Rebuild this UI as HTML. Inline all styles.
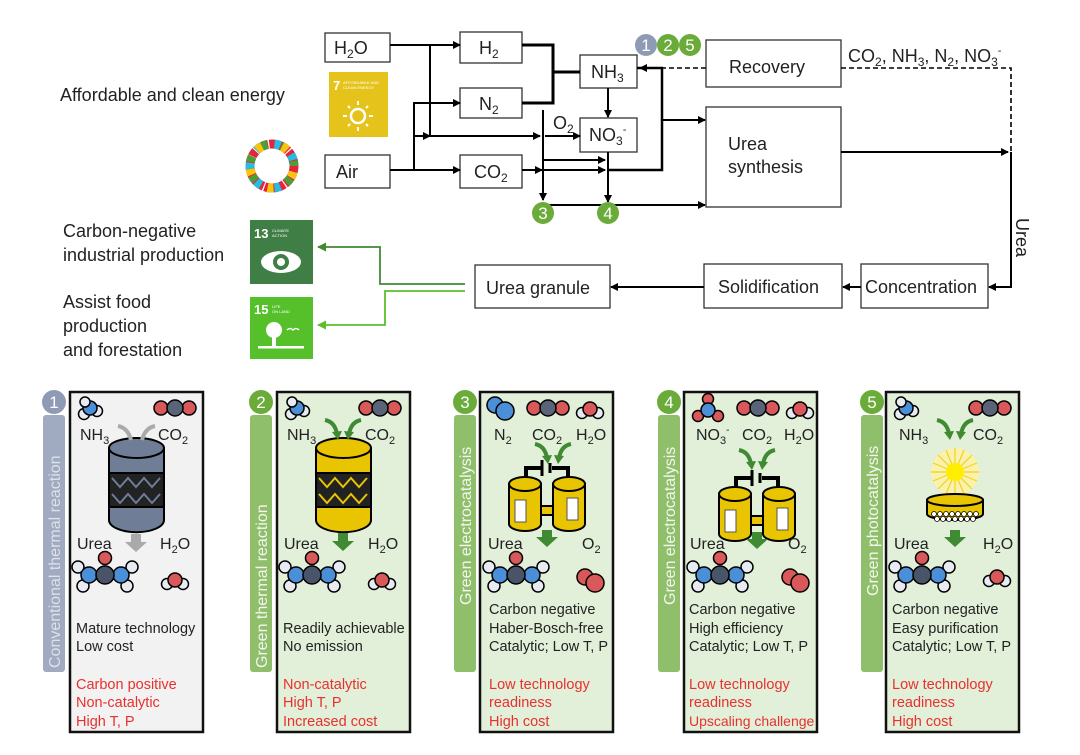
<!DOCTYPE html>
<html><head><meta charset="utf-8"><style>
html,body{margin:0;padding:0;background:#fff}
svg{display:block}
text{font-family:"Liberation Sans",sans-serif}
</style></head><body>
<svg width="1080" height="755" viewBox="0 0 1080 755" xmlns="http://www.w3.org/2000/svg">
<defs>
<marker id="a" markerWidth="8" markerHeight="8" refX="7" refY="4" orient="auto" markerUnits="userSpaceOnUse"><path d="M0,0 L8,4 L0,8 z" fill="#000"/></marker>
<marker id="ag" markerWidth="9" markerHeight="9" refX="8" refY="4.5" orient="auto" markerUnits="userSpaceOnUse"><path d="M0,0 L9,4.5 L0,9 z" fill="#3f8a33"/></marker>
<marker id="al" markerWidth="9" markerHeight="9" refX="8" refY="4.5" orient="auto" markerUnits="userSpaceOnUse"><path d="M0,0 L9,4.5 L0,9 z" fill="#5cbf2a"/></marker>
<g id="co2"><circle cx="-14" cy="0" r="7" fill="#d9595b" stroke="#000" stroke-width="1.5"/><circle cx="14" cy="0" r="7" fill="#d9595b" stroke="#000" stroke-width="1.5"/><circle cx="0" cy="0" r="8" fill="#5a6478" stroke="#000" stroke-width="1.5"/></g>
<g id="nh3"><circle cx="-6" cy="6" r="5.5" fill="#e8ecf2" stroke="#000" stroke-width="1.5"/><circle cx="7" cy="3" r="5.5" fill="#e8ecf2" stroke="#000" stroke-width="1.5"/><circle cx="0" cy="0" r="7" fill="#4a8fd8" stroke="#000" stroke-width="1.5"/><circle cx="-5" cy="-6" r="5" fill="#e8ecf2" stroke="#000" stroke-width="1.5"/></g>
<g id="h2o"><circle cx="-8" cy="3" r="5.5" fill="#e8ecf2" stroke="#000" stroke-width="1.5"/><circle cx="8" cy="3" r="5.5" fill="#e8ecf2" stroke="#000" stroke-width="1.5"/><circle cx="0" cy="-1" r="7" fill="#d9595b" stroke="#000" stroke-width="1.5"/></g>
<g id="o2"><circle cx="-5" cy="-3" r="8" fill="#d9595b" stroke="#000" stroke-width="1.5"/><circle cx="5" cy="3" r="9" fill="#d9595b" stroke="#000" stroke-width="1.5"/></g>
<g id="n2"><circle cx="-5" cy="-3" r="8" fill="#4a8fd8" stroke="#000" stroke-width="1.5"/><circle cx="5" cy="3" r="9" fill="#4a8fd8" stroke="#000" stroke-width="1.5"/></g>
<g id="urea" stroke="#000" stroke-width="1.5">
<circle cx="-27" cy="-8" r="6" fill="#e8ecf2"/><circle cx="27" cy="-8" r="6" fill="#e8ecf2"/>
<circle cx="-22" cy="11" r="6" fill="#e8ecf2"/><circle cx="22" cy="11" r="6" fill="#e8ecf2"/>
<circle cx="-16" cy="0" r="8" fill="#4a8fd8"/><circle cx="16" cy="0" r="8" fill="#4a8fd8"/>
<circle cx="0" cy="-17" r="6.5" fill="#d9595b"/>
<circle cx="0" cy="0" r="9" fill="#4a5468"/></g>
<g id="nite" stroke="#000" stroke-width="1.5"><circle cx="0" cy="-11" r="5.5" fill="#d9595b"/><circle cx="-10" cy="6" r="5.5" fill="#d9595b"/><circle cx="10" cy="6" r="5.5" fill="#d9595b"/><circle cx="0" cy="0" r="7" fill="#4a8fd8"/></g>
<g id="garr"><path d="M-18,-12 q10,2 12,14" fill="none" stroke="#3f8a33" stroke-width="4"/><path d="M-11,0 l6,8 l4,-9z" fill="#3f8a33"/><path d="M18,-12 q-10,2 -12,14" fill="none" stroke="#3f8a33" stroke-width="4"/><path d="M11,0 l-6,8 l-4,-9z" fill="#3f8a33"/></g>
<g id="cell">
<path d="M-21,-30 v-14 h16 M5,-44 h16 v14" fill="none" stroke="#000" stroke-width="4"/>
<line x1="-5" y1="-52" x2="-5" y2="-36" stroke="#000" stroke-width="3"/><line x1="3" y1="-49" x2="3" y2="-39" stroke="#000" stroke-width="3"/>
<rect x="-10" y="-6" width="20" height="9" fill="#e8c500" stroke="#000" stroke-width="2"/>
<path d="M-38,-28 v40 a16,7 0 0 0 32,0 v-40z" fill="#e8c500" stroke="#000" stroke-width="2"/><ellipse cx="-22" cy="-28" rx="16" ry="7" fill="#e8c500" stroke="#000" stroke-width="2"/>
<path d="M6,-28 v40 a16,7 0 0 0 32,0 v-40z" fill="#e8c500" stroke="#000" stroke-width="2"/><ellipse cx="22" cy="-28" rx="16" ry="7" fill="#e8c500" stroke="#000" stroke-width="2"/>
<rect x="-32" y="-12" width="11" height="22" fill="#fff" stroke="#555"/><rect x="20" y="-14" width="11" height="22" fill="#fff" stroke="#555"/>
</g>
</defs>

<g font-size="18" fill="#222">
<text x="60" y="101">Affordable and clean energy</text>
<text x="63" y="237">Carbon-negative</text>
<text x="63" y="261">industrial production</text>
<text x="63" y="308">Assist food</text>
<text x="63" y="332">production</text>
<text x="63" y="356">and forestation</text>
</g>
<rect x="329" y="72" width="59" height="65" fill="#e5c31a"/>
<text x="333" y="90" font-size="13" font-weight="bold" fill="#fff">7</text>
<text x="343" y="84" font-size="4" fill="#fff">AFFORDABLE AND</text>
<text x="343" y="89" font-size="4" fill="#fff">CLEAN ENERGY</text>
<circle cx="358" cy="116" r="7" fill="none" stroke="#fff" stroke-width="2.5"/>
<g stroke="#fff" stroke-width="2"><line x1="358" y1="101" x2="358" y2="105"/><line x1="358" y1="127" x2="358" y2="131"/><line x1="343" y1="116" x2="347" y2="116"/><line x1="369" y1="116" x2="373" y2="116"/><line x1="348" y1="106" x2="350" y2="108"/><line x1="366" y1="124" x2="368" y2="126"/><line x1="366" y1="108" x2="368" y2="106"/><line x1="348" y1="126" x2="350" y2="124"/></g>
<g transform="translate(272,166)">
<circle r="22" fill="none" stroke="#e5243b" stroke-width="9" stroke-dasharray="6 1.2"/>
<circle r="22" fill="none" stroke="#4c9f38" stroke-width="9" stroke-dasharray="6 14" stroke-dashoffset="7"/>
<circle r="22" fill="none" stroke="#26bde2" stroke-width="9" stroke-dasharray="6 14" stroke-dashoffset="14"/>
<circle r="22" fill="none" stroke="#fcc30b" stroke-width="9" stroke-dasharray="6 21" stroke-dashoffset="21"/>
</g>
<rect x="250" y="220" width="63" height="64" fill="#3f7e44"/>
<text x="254" y="238" font-size="13" font-weight="bold" fill="#fff">13</text>
<text x="272" y="232" font-size="4" fill="#fff">CLIMATE</text><text x="272" y="237" font-size="4" fill="#fff">ACTION</text>
<ellipse cx="281" cy="262" rx="20" ry="11" fill="#fff"/><circle cx="281" cy="262" r="8" fill="#3f7e44"/><circle cx="281" cy="262" r="4" fill="#fff"/>
<rect x="250" y="297" width="63" height="62" fill="#56c02b"/>
<text x="254" y="314" font-size="13" font-weight="bold" fill="#fff">15</text>
<text x="272" y="308" font-size="4" fill="#fff">LIFE</text><text x="272" y="313" font-size="4" fill="#fff">ON LAND</text>
<circle cx="274" cy="330" r="8" fill="#fff"/><rect x="272" y="336" width="4" height="10" fill="#fff"/><rect x="258" y="346" width="46" height="2.5" fill="#fff"/>
<path d="M287,330 q3,-3 6,0 q3,-3 6,0" fill="none" stroke="#fff" stroke-width="1.5"/>

<g fill="#fff" stroke="#333" stroke-width="1.3">
<rect x="325" y="33" width="65" height="29"/>
<rect x="325" y="155" width="65" height="33"/>
<rect x="460" y="32" width="62" height="31"/>
<rect x="460" y="88" width="62" height="30"/>
<rect x="460" y="155" width="62" height="33"/>
<rect x="580" y="55" width="57" height="33"/>
<rect x="580" y="118" width="57" height="34"/>
<rect x="706" y="40" width="135" height="47"/>
<rect x="706" y="107" width="135" height="100"/>
<rect x="475" y="265" width="135" height="43"/>
<rect x="704" y="264" width="138" height="44"/>
<rect x="861" y="264" width="127" height="44"/>
</g>
<g font-size="18" fill="#222">
<text x="334" y="54">H<tspan font-size="12" dy="4">2</tspan><tspan dy="-4">O</tspan></text>
<text x="336" y="178">Air</text>
<text x="479" y="54">H<tspan font-size="12" dy="4">2</tspan></text>
<text x="479" y="110">N<tspan font-size="12" dy="4">2</tspan></text>
<text x="474" y="178">CO<tspan font-size="12" dy="4">2</tspan></text>
<text x="591" y="78">NH<tspan font-size="12" dy="4">3</tspan></text>
<text x="589" y="141">NO<tspan font-size="12" dy="4">3</tspan><tspan font-size="11" dy="-12">-</tspan></text>
<text x="553" y="129">O<tspan font-size="12" dy="4">2</tspan></text>
<text x="729" y="73">Recovery</text>
<text x="728" y="150">Urea</text>
<text x="728" y="173">synthesis</text>
<text x="848" y="62">CO<tspan font-size="12" dy="4">2</tspan><tspan dy="-4">, NH</tspan><tspan font-size="12" dy="4">3</tspan><tspan dy="-4">, N</tspan><tspan font-size="12" dy="4">2</tspan><tspan dy="-4">, NO</tspan><tspan font-size="12" dy="4">3</tspan><tspan font-size="11" dy="-12">-</tspan></text>
<text x="486" y="294">Urea granule</text>
<text x="718" y="293">Solidification</text>
<text x="865" y="293">Concentration</text>
<text transform="translate(1016,218) rotate(90)">Urea</text>
</g>
<g stroke="#000" stroke-width="2" fill="none">
<line x1="390" y1="45" x2="460" y2="45" marker-end="url(#a)"/>
<polyline points="430,45 430,136 540,136" marker-end="url(#a)"/>
<line x1="390" y1="170" x2="460" y2="170" marker-end="url(#a)"/>
<polyline points="414,170 414,103 460,103" marker-end="url(#a)"/>
<line x1="414" y1="136" x2="430" y2="136" marker-end="url(#a)"/>
<line x1="545" y1="136" x2="580" y2="136" marker-end="url(#a)"/>
<line x1="522" y1="170" x2="542" y2="170" marker-end="url(#a)"/>
<polyline points="522,45 553,45 553,103 522,103" stroke-width="3"/>
<line x1="553" y1="72" x2="580" y2="72" stroke-width="3"/>
<line x1="543" y1="110" x2="543" y2="200" marker-end="url(#a)"/>
<line x1="543" y1="160" x2="605" y2="160" marker-end="url(#a)"/>
<line x1="543" y1="170" x2="605" y2="170" marker-end="url(#a)"/>
<line x1="543" y1="205" x2="705" y2="205" marker-end="url(#a)"/>
<line x1="608" y1="88" x2="608" y2="117" marker-end="url(#a)"/>
<line x1="608" y1="152" x2="608" y2="202" marker-end="url(#a)"/>
<polyline points="637,68 662,68 662,170 608,170" stroke-width="2.5"/>
<line x1="662" y1="120" x2="705" y2="120" marker-end="url(#a)"/>
<line x1="841" y1="152" x2="1008" y2="152" marker-end="url(#a)"/>
<polyline points="1011,152 1011,287 989,287" marker-end="url(#a)"/>
<line x1="861" y1="287" x2="843" y2="287" marker-end="url(#a)"/>
<line x1="704" y1="287" x2="611" y2="287" marker-end="url(#a)"/>
<polyline points="841,68 1011,68 1011,152" stroke-dasharray="5 3" stroke-width="1.6"/>
<line x1="706" y1="68" x2="640" y2="68" stroke-dasharray="5 3" stroke-width="1.6" marker-end="url(#a)"/>
</g>
<polyline points="465,284 380,284 380,247 318,247" fill="none" stroke="#3f8a33" stroke-width="1.8" marker-end="url(#ag)"/>
<polyline points="465,291 385,291 385,325 318,325" fill="none" stroke="#5cbf2a" stroke-width="1.8" marker-end="url(#al)"/>
<g font-size="17" fill="#fff" text-anchor="middle">
<circle cx="646" cy="45" r="11" fill="#8f9bb5"/><text x="646" y="51">1</text>
<circle cx="668" cy="45" r="11" fill="#6aab3a"/><text x="668" y="51">2</text>
<circle cx="690" cy="45" r="11" fill="#6aab3a"/><text x="690" y="51">5</text>
<circle cx="543" cy="213" r="11" fill="#6aab3a"/><text x="543" y="219">3</text>
<circle cx="608" cy="213" r="11" fill="#6aab3a"/><text x="608" y="219">4</text>
</g>

<g stroke="#111" stroke-width="2.5">
<rect x="70" y="392" width="133" height="340" fill="#f2f2f2"/>
<rect x="277" y="392" width="133" height="340" fill="#e2efd9"/>
<rect x="480" y="392" width="133" height="340" fill="#e2efd9"/>
<rect x="684" y="392" width="133" height="340" fill="#e2efd9"/>
<rect x="886" y="392" width="133" height="340" fill="#e2efd9"/>
</g>
<g>
<rect x="43" y="415" width="22" height="257" rx="3" fill="#a0aac0"/>
<rect x="250" y="415" width="22" height="257" rx="3" fill="#8fbf6a"/>
<rect x="454" y="415" width="22" height="257" rx="3" fill="#8fbf6a"/>
<rect x="658" y="415" width="22" height="257" rx="3" fill="#8fbf6a"/>
<rect x="861" y="415" width="22" height="257" rx="3" fill="#8fbf6a"/>
<circle cx="54" cy="402" r="12" fill="#8f9bb5"/>
<circle cx="261" cy="402" r="12" fill="#6aab3a"/>
<circle cx="465" cy="402" r="12" fill="#6aab3a"/>
<circle cx="669" cy="402" r="12" fill="#6aab3a"/>
<circle cx="872" cy="402" r="12" fill="#6aab3a"/>
</g>
<g font-size="17" fill="#fff" text-anchor="middle">
<text x="54" y="408">1</text><text x="261" y="408">2</text><text x="465" y="408">3</text><text x="669" y="408">4</text><text x="872" y="408">5</text>
</g>
<g font-size="16" fill="#f4f6f0">
<text transform="translate(60,668) rotate(-90)" fill="#dde2ea">Conventional thermal reaction</text>
<text transform="translate(267,668) rotate(-90)">Green thermal reaction</text>
<text transform="translate(471,605) rotate(-90)">Green electrocatalysis</text>
<text transform="translate(675,605) rotate(-90)">Green electrocatalysis</text>
<text transform="translate(878,596) rotate(-90)">Green photocatalysis</text>
</g>

<use href="#nh3" x="90" y="408"/><use href="#co2" x="175" y="408"/>
<use href="#nh3" x="297" y="408"/><use href="#co2" x="380" y="408"/>
<use href="#n2" x="500" y="408"/><use href="#co2" x="548" y="408"/><use href="#h2o" x="590" y="410"/>
<use href="#nite" x="708" y="410"/><use href="#co2" x="758" y="408"/><use href="#h2o" x="800" y="410"/>
<use href="#nh3" x="906" y="408"/><use href="#co2" x="990" y="408"/>
<use href="#urea" x="105" y="575"/><use href="#h2o" x="175" y="581"/>
<use href="#urea" x="312" y="575"/><use href="#h2o" x="382" y="581"/>
<use href="#urea" x="516" y="575"/><use href="#o2" x="590" y="580"/>
<use href="#urea" x="720" y="575"/><use href="#o2" x="795" y="580"/>
<use href="#urea" x="922" y="575"/><use href="#h2o" x="997" y="578"/>

<g stroke="#000" stroke-width="2">
<path d="M109,448 v72 a27,12 0 0 0 55,0 v-72z" fill="#6f7d96"/><ellipse cx="136.5" cy="448" rx="27.5" ry="10" fill="#6f7d96"/>
<rect x="109" y="473" width="55" height="34" fill="#222"/>
<path d="M316,448 v72 a27,12 0 0 0 55,0 v-72z" fill="#e8c500"/><ellipse cx="343.5" cy="448" rx="27.5" ry="10" fill="#e8c500"/>
<rect x="316" y="473" width="55" height="34" fill="#222"/>
</g>
<g stroke="#6f7d96" stroke-width="2" fill="none"><path d="M112,478 l8,9 l8,-9 l8,9 l8,-9 l8,9 l8,-9 M112,494 l8,9 l8,-9 l8,9 l8,-9 l8,9 l8,-9"/></g>
<g stroke="#e8c500" stroke-width="2" fill="none"><path d="M319,478 l8,9 l8,-9 l8,9 l8,-9 l8,9 l8,-9 M319,494 l8,9 l8,-9 l8,9 l8,-9 l8,9 l8,-9"/></g>
<g fill="none" stroke="#aaa" stroke-width="4"><path d="M118,426 q10,2 13,14 M155,426 q-10,2 -13,14"/></g>
<path d="M131,534 h10 v8 h6 l-11,10 l-11,-10 h6z" fill="#aaa"/>
<use href="#garr" x="343" y="432"/>
<path d="M338,533 h10 v8 h6 l-11,10 l-11,-10 h6z" fill="#3f8a33"/>
<use href="#garr" x="553" y="456"/>
<use href="#cell" x="547" y="512"/>
<path d="M542,530 h10 v7 h6 l-11,10 l-11,-10 h6z" fill="#3f8a33"/>
<use href="#garr" x="757" y="462"/>
<use href="#cell" x="757" y="522"/>
<path d="M752,532 h10 v7 h6 l-11,10 l-11,-10 h6z" fill="#3f8a33"/>
<use href="#garr" x="955" y="432"/>
<circle cx="955" cy="472" r="24" fill="#fff3a0" opacity="0.8"/>
<g stroke="#f5d020" stroke-width="1.2"><path d="M955,448 v48 M931,472 h48 M938,455 l34,34 M972,455 l-34,34 M946,450 l18,44 M964,450 l-18,44 M933,463 l44,18 M933,481 l44,-18"/></g>
<circle cx="955" cy="472" r="9" fill="#ffee00"/>
<path d="M927,500 v14 a28,6 0 0 0 56,0 v-14z" fill="#e8c500" stroke="#000" stroke-width="2"/><ellipse cx="955" cy="500" rx="28" ry="6" fill="#e8c500" stroke="#000" stroke-width="2"/>
<g fill="#fff" stroke="#000" stroke-width="0.8"><circle cx="934" cy="514" r="2.5"/><circle cx="940" cy="514" r="2.5"/><circle cx="946" cy="514" r="2.5"/><circle cx="952" cy="514" r="2.5"/><circle cx="958" cy="514" r="2.5"/><circle cx="964" cy="514" r="2.5"/><circle cx="970" cy="514" r="2.5"/><circle cx="976" cy="514" r="2.5"/><circle cx="937" cy="519" r="2.5"/><circle cx="943" cy="519" r="2.5"/><circle cx="949" cy="519" r="2.5"/><circle cx="955" cy="519" r="2.5"/><circle cx="961" cy="519" r="2.5"/><circle cx="967" cy="519" r="2.5"/><circle cx="973" cy="519" r="2.5"/></g>
<path d="M950,530 h10 v7 h6 l-11,10 l-11,-10 h6z" fill="#3f8a33"/>

<g font-size="16" fill="#222">
<text x="80" y="440">NH<tspan font-size="11" dy="4">3</tspan></text><text x="158" y="440">CO<tspan font-size="11" dy="4">2</tspan></text>
<text x="287" y="440">NH<tspan font-size="11" dy="4">3</tspan></text><text x="365" y="440">CO<tspan font-size="11" dy="4">2</tspan></text>
<text x="494" y="440">N<tspan font-size="11" dy="4">2</tspan></text><text x="532" y="440">CO<tspan font-size="11" dy="4">2</tspan></text><text x="576" y="440">H<tspan font-size="11" dy="4">2</tspan><tspan dy="-4">O</tspan></text>
<text x="696" y="440">NO<tspan font-size="11" dy="4">3</tspan><tspan font-size="10" dy="-11">-</tspan></text><text x="742" y="440">CO<tspan font-size="11" dy="4">2</tspan></text><text x="784" y="440">H<tspan font-size="11" dy="4">2</tspan><tspan dy="-4">O</tspan></text>
<text x="899" y="440">NH<tspan font-size="11" dy="4">3</tspan></text><text x="973" y="440">CO<tspan font-size="11" dy="4">2</tspan></text>
<text x="77" y="549">Urea</text><text x="160" y="549">H<tspan font-size="11" dy="4">2</tspan><tspan dy="-4">O</tspan></text>
<text x="284" y="549">Urea</text><text x="368" y="549">H<tspan font-size="11" dy="4">2</tspan><tspan dy="-4">O</tspan></text>
<text x="488" y="549">Urea</text><text x="582" y="549">O<tspan font-size="11" dy="4">2</tspan></text>
<text x="690" y="549">Urea</text><text x="788" y="549">O<tspan font-size="11" dy="4">2</tspan></text>
<text x="894" y="549">Urea</text><text x="983" y="549">H<tspan font-size="11" dy="4">2</tspan><tspan dy="-4">O</tspan></text>
</g>
<g font-size="14.5" fill="#222">
<text x="76" y="633">Mature technology</text><text x="76" y="651">Low cost</text>
<text x="283" y="633">Readily achievable</text><text x="283" y="651">No emission</text>
<text x="489" y="614">Carbon negative</text><text x="489" y="633">Haber-Bosch-free</text><text x="489" y="651">Catalytic; Low T, P</text>
<text x="689" y="614">Carbon negative</text><text x="689" y="633">High efficiency</text><text x="689" y="651">Catalytic; Low T, P</text>
<text x="892" y="614">Carbon negative</text><text x="892" y="633">Easy purification</text><text x="892" y="651">Catalytic; Low T, P</text>
</g>
<g font-size="14.5" fill="#e8312f">
<text x="76" y="689">Carbon positive</text><text x="76" y="707">Non-catalytic</text><text x="76" y="726">High T, P</text>
<text x="283" y="689">Non-catalytic</text><text x="283" y="707">High T, P</text><text x="283" y="726">Increased cost</text>
<text x="489" y="689">Low technology</text><text x="489" y="707">readiness</text><text x="489" y="726">High cost</text>
<text x="689" y="689">Low technology</text><text x="689" y="707">readiness</text><text x="689" y="726" font-size="14">Upscaling challenge</text>
<text x="892" y="689">Low technology</text><text x="892" y="707">readiness</text><text x="892" y="726">High cost</text>
</g>
</svg>
</body></html>
